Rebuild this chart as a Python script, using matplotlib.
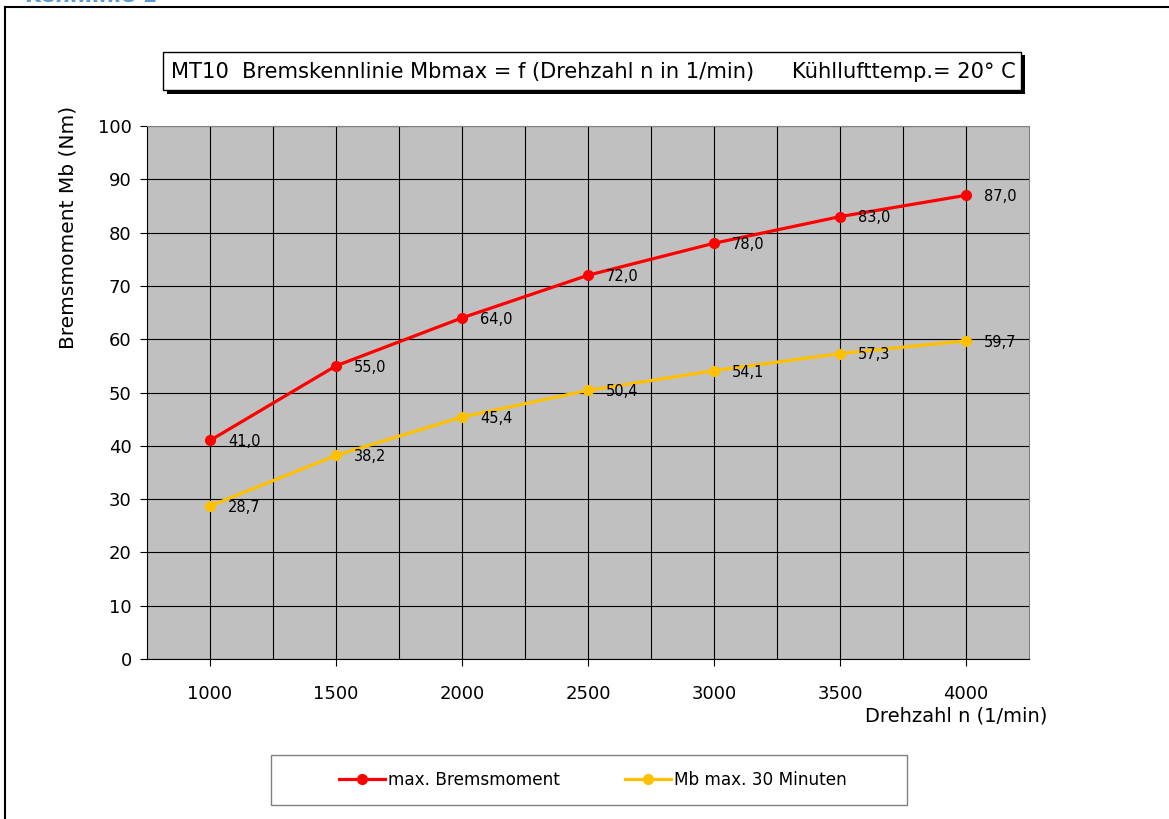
import matplotlib.pyplot as plt
import matplotlib.patches as mpatches
from matplotlib.lines import Line2D
import numpy as np

# Drehzahl und Bremsmomente
drehzahl = [1000, 1500, 2000, 2500, 3000, 3500, 4000]
mb_max = [41.0, 55.0, 64.0, 72.0, 78.0, 83.0, 87.0]
mb_30min = [28.7, 38.2, 45.4, 50.4, 54.1, 57.3, 59.7]

label_max = 'max. Bremsmoment'
label_30 = 'Mb max. 30 Minuten'

plt.rcParams['font.family'] = ['DejaVu Sans']

W, H = 1169, 819
fig = plt.figure(figsize=(W / 100, H / 100), dpi=100)

def fx(px):
    return px / W

def fy(py):
    return 1 - py / H

# Rahmen um das Diagramm
fig.add_artist(Line2D([fx(5), 1.0], [fy(7), fy(7)], color='black', lw=1.5))
fig.add_artist(Line2D([fx(5), fx(5)], [fy(7), 0.0], color='black', lw=1.5))
fig.text(fx(25), fy(1.5), 'Kennlinie 1', color='#5b9bd5', fontsize=15,
         fontweight='bold', va='baseline', ha='left')

# Diagrammfläche
ax = fig.add_axes([fx(147), fy(659), fx(1029) - fx(147), fy(126) - fy(659)])
ax.set_facecolor('#c0c0c0')
ax.plot(drehzahl, mb_max, color='#ff0000', lw=2.3, marker='o', ms=7, zorder=3)
ax.plot(drehzahl, mb_30min, color='#ffc000', lw=2.3, marker='o', ms=7, zorder=3)

for x, y in zip(drehzahl, mb_max):
    ax.annotate(f'{y:.1f}'.replace('.', ','), (x, y), xytext=(13, -1),
                textcoords='offset points', va='center', ha='left', fontsize=10.5)
for x, y in zip(drehzahl, mb_30min):
    ax.annotate(f'{y:.1f}'.replace('.', ','), (x, y), xytext=(13, -1),
                textcoords='offset points', va='center', ha='left', fontsize=10.5)

ax.set_xlim(750, 4250)
ax.set_ylim(0, 100)
ax.set_xticks(drehzahl)
ax.set_xticks(np.arange(1250, 4250, 500), minor=True)
ax.set_yticks(np.arange(0, 101, 10))
ax.grid(True, which='both', color='black', lw=0.8)
ax.set_axisbelow(True)
ax.tick_params(axis='x', which='minor', length=0)
ax.tick_params(axis='x', which='major', length=5, direction='out', pad=14, labelsize=13)
ax.tick_params(axis='y', length=5, direction='out', pad=6, labelsize=13)
for side in ['top', 'right']:
    ax.spines[side].set_color('#808080')
for side in ['left', 'bottom']:
    ax.spines[side].set_color('black')

fig.text(fx(68), fy(227), 'Bremsmoment Mb (Nm)', rotation=90, ha='center',
         va='center', fontsize=14.5)
fig.text(fx(1047), fy(716), 'Drehzahl n (1/min)', ha='right', va='center',
         fontsize=14)

# Titelkasten mit Schatten
fig.add_artist(mpatches.Rectangle((fx(167), fy(94)), fx(1025) - fx(167), fy(55) - fy(94),
                                  facecolor='black', edgecolor='none'))
fig.add_artist(mpatches.Rectangle((fx(163), fy(90)), fx(1021) - fx(163), fy(52) - fy(90),
                                  facecolor='white', edgecolor='black', lw=1))
fig.text(fx(171), fy(72), 'MT10  Bremskennlinie Mbmax = f (Drehzahl n in 1/min)',
         ha='left', va='center', fontsize=15.1)
fig.text(fx(1016), fy(72), 'Kühllufttemp.= 20° C', ha='right', va='center', fontsize=15.1)

# Legende
fig.add_artist(mpatches.Rectangle((fx(271), fy(805)), fx(907) - fx(271), fy(755) - fy(805),
                                  facecolor='white', edgecolor='#808080', lw=1))
handles = [Line2D([], [], color='#ff0000', lw=2.3, marker='o', ms=7),
           Line2D([], [], color='#ffc000', lw=2.3, marker='o', ms=7)]
fig.legend(handles, [label_max, label_30], loc='center', bbox_to_anchor=(fx(593), fy(780)),
           ncol=2, frameon=False, fontsize=12.2, handlelength=2.7, handletextpad=0.2,
           columnspacing=3.8)

fig.savefig('out.png', dpi=100)
